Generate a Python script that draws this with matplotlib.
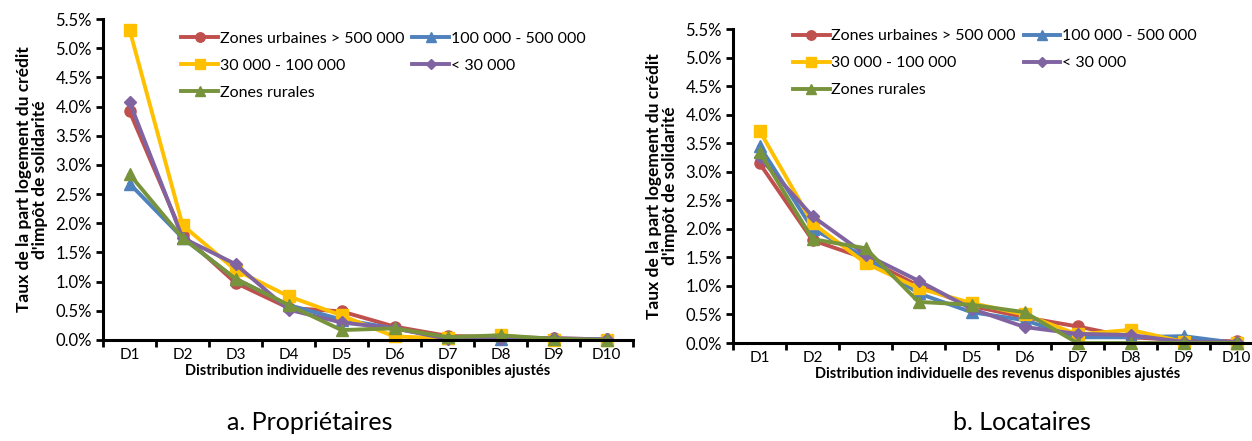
import matplotlib.pyplot as plt
from matplotlib.ticker import FixedLocator, FuncFormatter
import numpy as np

plt.rcParams['font.family'] = ['Lato', 'DejaVu Sans']

deciles = ['D1', 'D2', 'D3', 'D4', 'D5', 'D6', 'D7', 'D8', 'D9', 'D10']
series_names = ['Zones urbaines > 500 000', '100 000 - 500 000', '30 000 - 100 000',
                '< 30 000', 'Zones rurales']

# Propriétaires (in %)
prop_urbain = [3.92, 1.80, 0.98, 0.55, 0.49, 0.23, 0.07, 0.05, 0.03, 0.01]
prop_100k = [2.68, 1.75, 1.05, 0.60, 0.35, 0.20, 0.03, 0.02, 0.02, 0.01]
prop_30k = [5.32, 1.97, 1.20, 0.75, 0.42, 0.06, 0.03, 0.08, 0.00, 0.00]
prop_moins30k = [4.08, 1.75, 1.30, 0.52, 0.30, 0.20, 0.02, 0.02, 0.03, 0.01]
prop_rural = [2.84, 1.75, 1.05, 0.60, 0.17, 0.20, 0.05, 0.08, 0.02, 0.00]

# Locataires (in %)
loc_urbain = [3.15, 1.80, 1.48, 1.00, 0.65, 0.45, 0.29, 0.10, 0.05, 0.03]
loc_100k = [3.45, 2.00, 1.50, 0.87, 0.54, 0.40, 0.10, 0.10, 0.12, 0.00]
loc_30k = [3.72, 2.10, 1.40, 0.96, 0.70, 0.50, 0.15, 0.23, 0.02, 0.00]
loc_moins30k = [3.25, 2.22, 1.55, 1.09, 0.60, 0.28, 0.16, 0.14, 0.02, 0.02]
loc_rural = [3.35, 1.82, 1.66, 0.72, 0.67, 0.54, 0.00, 0.00, 0.00, 0.00]

colors = ['#C0504D', '#4F81BD', '#FFC000', '#8064A2', '#77933C']
markers = ['o', '^', 's', 'D', '^']
msizes = [8, 8, 8, 6.5, 8]

fig = plt.figure(figsize=(12.52, 4.41), dpi=100)
ax1 = fig.add_axes([103 / 1252, 101 / 441, 530 / 1252, 321 / 441])
ax2 = fig.add_axes([733 / 1252, 98 / 441, 530 / 1252, 314 / 441])


def draw(ax, data, legend_anchor):
    x = np.arange(len(deciles))
    handles = []
    for vals, c, m, ms, name in zip(data, colors, markers, msizes, series_names):
        h, = ax.plot(x, vals, color=c, marker=m, markersize=ms, linewidth=2.8,
                     label=name, clip_on=False)
        handles.append(h)
    ax.set_xlim(-0.5, 9.5)
    ax.set_ylim(0, 5.5)
    ax.set_yticks(np.arange(0, 5.51, 0.5))
    ax.yaxis.set_major_formatter(FuncFormatter(lambda v, p: f'{v:.1f}%'))
    ax.xaxis.set_major_locator(FixedLocator(np.arange(-0.5, 9.6, 1)))
    ax.xaxis.set_major_formatter(FuncFormatter(lambda v, p: ''))
    ax.xaxis.set_minor_locator(FixedLocator(x))
    ax.set_xticklabels(deciles, minor=True)
    ax.tick_params(axis='x', which='minor', length=0, labelsize=11, pad=6)
    ax.tick_params(axis='x', which='major', length=5, width=2, direction='out')
    ax.tick_params(axis='y', length=5, width=2, labelsize=12, pad=3)
    for s in ['top', 'right']:
        ax.spines[s].set_visible(False)
    for s in ['left', 'bottom']:
        ax.spines[s].set_linewidth(2.2)
    ax.set_ylabel("Taux de la part logement du crédit\nd'impôt de solidarité",
                  fontsize=12.5, fontweight='bold', labelpad=5, linespacing=1.05)
    ax.set_xlabel('Distribution individuelle des revenus disponibles ajustés',
                  fontsize=10.5, fontweight='bold', labelpad=1)
    order = [0, 2, 4, 1, 3]
    ax.legend([handles[i] for i in order], [series_names[i] for i in order],
              ncol=2, loc='upper left', bbox_to_anchor=legend_anchor, frameon=False,
              fontsize=11.5, handlelength=2.3, handletextpad=0.1, markerscale=0.85,
              columnspacing=0.5, labelspacing=0.8, borderaxespad=0.2)


draw(ax1, [prop_urbain, prop_100k, prop_30k, prop_moins30k, prop_rural], (0.13, 0.99))
draw(ax2, [loc_urbain, loc_100k, loc_30k, loc_moins30k, loc_rural], (0.095, 1.03))

fig.text(310 / 1252, 19 / 441, 'a. Propriétaires', fontsize=18, ha='center', va='center')
fig.text(1022 / 1252, 19 / 441, 'b. Locataires', fontsize=18, ha='center', va='center')

fig.savefig('out.png', dpi=100)
